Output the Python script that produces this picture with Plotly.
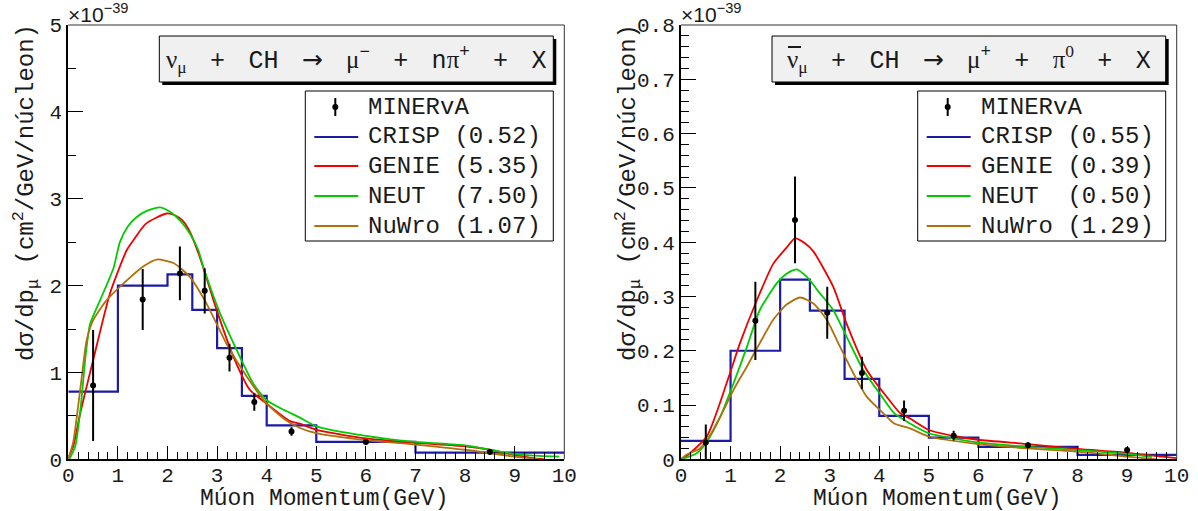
import plotly.graph_objects as go

# ---------------- data (cross sections in units of 1e-39 cm^2/GeV/nucleon) ----------------
# nu_mu CC pi+ : muon momentum
nu_edges = [0, 1, 2, 2.5, 3, 3.5, 4, 5, 7, 10]
nu_crisp = [0.78, 2.00, 2.13, 1.72, 1.28, 0.73, 0.39, 0.20, 0.076]

nu_data_p = [0.5, 1.5, 2.25, 2.75, 3.25, 3.75, 4.5, 6.0, 8.5]
nu_data_v = [0.85, 1.84, 2.14, 1.94, 1.17, 0.66, 0.32, 0.20, 0.085]
nu_data_e = [0.64, 0.35, 0.31, 0.26, 0.16, 0.10, 0.05, 0.02, 0.02]

nu_genie_p = [0.0, 0.1, 0.24, 0.5, 0.84, 1.18, 1.31, 1.56, 1.98, 2.15, 2.3, 2.45, 2.65, 2.99, 3.33,
              3.66, 4.0, 4.47, 4.67, 5.0, 6.0, 7.0, 8.0, 8.5, 9.0, 9.4, 9.6]
nu_genie_v = [0.02, 0.15, 0.53, 1.14, 1.91, 2.41, 2.52, 2.71, 2.83, 2.81, 2.75, 2.62, 2.33, 1.72, 1.18,
              0.80, 0.64, 0.44, 0.41, 0.34, 0.24, 0.19, 0.15, 0.11, 0.05, 0.01, 0.0]

nu_neut_p = [0.02, 0.14, 0.25, 0.35, 0.44, 0.64, 0.91, 1.04, 1.2, 1.38, 1.58, 1.85, 2.05, 2.25, 2.45,
             2.62, 2.72, 3.06, 3.46, 3.73, 4.0, 4.34, 4.67, 5.0, 6.0, 7.0, 8.0, 8.5, 9.0, 9.5, 9.9]
nu_neut_v = [0.0, 0.15, 0.6, 1.2, 1.56, 1.83, 2.2, 2.5, 2.68, 2.79, 2.86, 2.90, 2.85, 2.75, 2.60,
             2.41, 2.22, 1.68, 1.18, 0.87, 0.68, 0.57, 0.48, 0.38, 0.27, 0.20, 0.16, 0.11, 0.06, 0.04, 0.03]

nu_nuwro_p = [0.0, 0.1, 0.24, 0.37, 0.5, 0.77, 1.18, 1.51, 1.78, 2.12, 2.45, 2.79, 3.19, 3.60, 4.0,
              4.39, 4.67, 5.0, 6.0, 7.0, 8.0, 9.0, 9.5]
nu_nuwro_v = [0.0, 0.2, 0.80, 1.37, 1.60, 1.83, 2.06, 2.22, 2.30, 2.26, 2.10, 1.79, 1.33, 0.95, 0.64,
              0.45, 0.36, 0.30, 0.22, 0.17, 0.11, 0.03, 0.0]

# anti-nu_mu CC pi0 : muon momentum
anu_edges = [0, 1, 2, 2.6, 3.3, 4, 5, 6, 8, 10]
anu_crisp = [0.034, 0.200, 0.331, 0.274, 0.148, 0.080, 0.040, 0.023, 0.008]

anu_data_p = [0.5, 1.5, 2.3, 2.95, 3.65, 4.5, 5.5, 7.0, 9.0]
anu_data_v = [0.031, 0.255, 0.441, 0.270, 0.159, 0.0895, 0.0435, 0.026, 0.017]
anu_data_e = [0.033, 0.072, 0.080, 0.048, 0.030, 0.019, 0.009, 0.005, 0.005]

anu_genie_p = [0.0, 0.11, 0.52, 0.92, 1.19, 1.53, 1.86, 2.13, 2.30, 2.5, 2.67, 3.07, 3.34, 3.75, 4.15,
               4.42, 4.62, 5.0, 5.56, 6.0, 7.0, 8.0, 9.0, 10.0]
anu_genie_v = [0.0, 0.006, 0.042, 0.140, 0.214, 0.293, 0.360, 0.390, 0.407, 0.398, 0.383, 0.318, 0.250,
               0.164, 0.115, 0.085, 0.075, 0.054, 0.042, 0.036, 0.028, 0.019, 0.012, 0.002]

anu_neut_p = [0.0, 0.3, 0.52, 0.79, 1.06, 1.33, 1.59, 1.93, 2.13, 2.33, 2.54, 2.80, 3.07, 3.34, 3.68,
              4.01, 4.3, 4.62, 5.0, 6.0, 7.0, 8.0, 9.0, 9.5]
anu_neut_v = [0.0, 0.01, 0.032, 0.078, 0.140, 0.207, 0.275, 0.324, 0.342, 0.350, 0.336, 0.306, 0.275,
              0.226, 0.164, 0.121, 0.085, 0.066, 0.048, 0.031, 0.023, 0.017, 0.010, 0.004]

anu_nuwro_p = [0.0, 0.1, 0.38, 0.59, 0.79, 1.06, 1.33, 1.59, 1.86, 2.13, 2.40, 2.67, 2.94, 3.21, 3.48,
               3.75, 4.08, 4.3, 4.62, 5.0, 6.0, 7.0, 8.0, 9.0, 9.6]
anu_nuwro_v = [0.0, 0.008, 0.020, 0.045, 0.078, 0.128, 0.171, 0.214, 0.257, 0.285, 0.298, 0.287, 0.257,
               0.207, 0.158, 0.115, 0.085, 0.066, 0.057, 0.042, 0.028, 0.020, 0.014, 0.005, 0.0]

models = ["CRISP", "GENIE", "NEUT", "NuWro"]
nu_chi2 = ["0.52", "5.35", "7.50", "1.07"]
anu_chi2 = ["0.55", "0.39", "0.50", "1.29"]
data_name = "MINERvA"

x_title = "Múon Momentum(GeV)"
y_title = "dσ/dp<sub>μ</sub>\u00a0(cm<sup>2</sup>/GeV/núcleon)"
exp_label = "×10<sup>−39</sup>"

# ---------------- styling ----------------
W, H = 1198, 511
MONO = "Liberation Mono"
SERIF = "Liberation Serif"
TXT = "#1a1a1a"
colors = {"CRISP": "#1b1ba8", "GENIE": "#f00000", "NEUT": "#00cc00", "NuWro": "#b0700a"}


def px(x):
    return x / W


def py(y):
    return 1 - y / H


def serif(s):
    return "<span style=\"font-family:%s\">%s</span>" % (SERIF, s)


# panel frames in pixels: (left, right), shared top/bottom
TOP, BOT = 25.0, 459.3
PANELS = [(68.3, 564.3), (681.0, 1176.7)]
YTITLE_X = [26, 628]

fig = go.Figure()


def add_panel(k, edges, crisp, dp, dv, de, curves):
    xa = "x" if k == 0 else "x2"
    ya = "y" if k == 0 else "y2"
    fig.add_trace(go.Scatter(x=edges, y=crisp + [crisp[-1]], mode="lines", line_shape="hv",
                             line=dict(color=colors["CRISP"], width=2.2),
                             xaxis=xa, yaxis=ya, showlegend=False))
    for name, (cx, cy) in zip(models[1:], curves):
        fig.add_trace(go.Scatter(x=cx, y=cy, mode="lines", line_shape="spline",
                                 line=dict(color=colors[name], width=1.8, smoothing=0.6),
                                 xaxis=xa, yaxis=ya, showlegend=False))
    fig.add_trace(go.Scatter(x=dp, y=dv, mode="markers",
                             marker=dict(color="black", size=6),
                             error_y=dict(type="data", array=de, color="black", thickness=2, width=0),
                             xaxis=xa, yaxis=ya, showlegend=False))


add_panel(0, nu_edges, nu_crisp, nu_data_p, nu_data_v, nu_data_e,
          [(nu_genie_p, nu_genie_v), (nu_neut_p, nu_neut_v), (nu_nuwro_p, nu_nuwro_v)])
add_panel(1, anu_edges, anu_crisp, anu_data_p, anu_data_v, anu_data_e,
          [(anu_genie_p, anu_genie_v), (anu_neut_p, anu_neut_v), (anu_nuwro_p, anu_nuwro_v)])

tickfont = dict(family=MONO, size=21, color=TXT)


def xaxis_cfg(k):
    l, r = PANELS[k]
    return dict(domain=[px(l), px(r)], range=[0, 10], dtick=1, ticks="inside", ticklen=13,
                tickwidth=1, tickcolor="black", automargin=False, ticklabelstandoff=-5,
                minor=dict(ticks="inside", ticklen=7, dtick=0.2, tickcolor="black", tickwidth=1),
                showline=True, linecolor="black", linewidth=2, showgrid=False, zeroline=False,
                tickfont=tickfont, anchor="y" if k == 0 else "y2")


def yaxis_cfg(k, ymax, dtick, minor):
    return dict(domain=[py(BOT), py(TOP)], range=[0, ymax], dtick=dtick, ticks="inside", ticklen=15,
                tickwidth=1, tickcolor="black", automargin=False,
                minor=dict(ticks="inside", ticklen=8, dtick=minor, tickcolor="black", tickwidth=1),
                showline=True, linecolor="black", linewidth=2, showgrid=False, zeroline=False,
                tickfont=tickfont, anchor="x" if k == 0 else "x2")


shapes = []
annotations = []

leptons = ["μ<sup>−</sup>", "μ<sup>+</sup>"]
pions = ["n" + serif("π") + "<sup>+</sup>", serif("π") + "<sup>" + serif("0") + "</sup>"]
gap = "\u00a0\u2004"
arrow = "<span style=\"font-family:DejaVu Sans\">→</span>"

chis = [nu_chi2, anu_chi2]

for k, (l, r) in enumerate(PANELS):
    # top and right frame lines
    shapes.append(dict(type="line", xref="paper", yref="paper", x0=px(l), x1=px(r), y0=py(TOP), y1=py(TOP),
                       line=dict(color="#333333", width=1)))
    shapes.append(dict(type="line", xref="paper", yref="paper", x0=px(r), x1=px(r), y0=py(TOP), y1=py(BOT),
                       line=dict(color="#333333", width=1)))

    # reaction box with drop shadow
    bx0, bx1 = l + 91, r - 11
    shapes.append(dict(type="rect", xref="paper", yref="paper", x0=px(bx0 + 3), x1=px(bx1 + 3),
                       y0=py(85), y1=py(39), fillcolor="black", line=dict(width=0), layer="above"))
    shapes.append(dict(type="rect", xref="paper", yref="paper", x0=px(bx0), x1=px(bx1),
                       y0=py(82), y1=py(36), fillcolor="#f0f0f0", line=dict(color="black", width=1),
                       layer="above"))
    tokens = [serif("ν") + "<sub>" + serif("μ") + "</sub>", "+", "CH", arrow,
              serif("μ") + leptons[k][1:], "+", pions[k], "+", "X"]
    annotations.append(dict(xref="paper", yref="paper", x=px((bx0 + bx1) / 2), y=py(59),
                            xanchor="center", yanchor="middle", showarrow=False,
                            text=gap.join(tokens), font=dict(family=MONO, size=25, color=TXT)))
    if k == 1:
        # bar over the antineutrino symbol
        shapes.append(dict(type="line", xref="paper", yref="paper", x0=px(bx0 + 16), x1=px(bx0 + 29),
                           y0=py(47), y1=py(47), line=dict(color=TXT, width=2), layer="above"))

    # legend box
    lx0, lx1 = r - 259, r - 11
    shapes.append(dict(type="rect", xref="paper", yref="paper", x0=px(lx0), x1=px(lx1),
                       y0=py(241), y1=py(91), fillcolor="white", line=dict(color="black", width=1),
                       layer="above"))
    rows = [107, 137, 166, 196, 226]
    sx0, sx1 = lx0 + 9, lx0 + 53
    mx = (sx0 + sx1) / 2 - 1
    shapes.append(dict(type="line", xref="paper", yref="paper", x0=px(mx), x1=px(mx),
                       y0=py(rows[0] + 9), y1=py(rows[0] - 9), line=dict(color="black", width=2),
                       layer="above"))
    shapes.append(dict(type="circle", xref="paper", yref="paper", x0=px(mx - 3), x1=px(mx + 3),
                       y0=py(rows[0] + 3), y1=py(rows[0] - 3), fillcolor="black",
                       line=dict(color="black", width=0), layer="above"))
    annotations.append(dict(xref="paper", yref="paper", x=px(lx0 + 61), y=py(rows[0]),
                            xanchor="left", yanchor="middle", showarrow=False, text=data_name,
                            font=dict(family=MONO, size=24, color=TXT)))
    for i, name in enumerate(models):
        yy = rows[i + 1]
        shapes.append(dict(type="line", xref="paper", yref="paper", x0=px(sx0), x1=px(sx1),
                           y0=py(yy), y1=py(yy), line=dict(color=colors[name], width=2), layer="above"))
        label = (name.ljust(6) + "(" + chis[k][i] + ")").replace(" ", "\u00a0")
        annotations.append(dict(xref="paper", yref="paper", x=px(lx0 + 61), y=py(yy),
                                xanchor="left", yanchor="middle", showarrow=False, text=label,
                                font=dict(family=MONO, size=24, color=TXT)))

    # axis titles
    annotations.append(dict(xref="paper", yref="paper", x=px((l + r) / 2 + 8), y=py(499),
                            xanchor="center", yanchor="middle", showarrow=False, text=x_title,
                            font=dict(family=MONO, size=23, color=TXT)))
    annotations.append(dict(xref="paper", yref="paper", x=px(YTITLE_X[k]), y=py(193),
                            xanchor="center", yanchor="middle", showarrow=False, text=y_title,
                            textangle=-90, font=dict(family=MONO, size=24, color=TXT)))
    # exponent label
    annotations.append(dict(xref="paper", yref="paper", x=px(l - 2), y=py(TOP + 3),
                            xanchor="left", yanchor="bottom", showarrow=False, text=exp_label,
                            font=dict(family="Liberation Sans", size=21, color=TXT)))

fig.update_layout(
    width=W, height=H,
    margin=dict(l=0, r=0, t=0, b=0, autoexpand=False),
    paper_bgcolor="white", plot_bgcolor="white",
    xaxis=xaxis_cfg(0), xaxis2=xaxis_cfg(1),
    yaxis=yaxis_cfg(0, 5, 1, 0.5), yaxis2=yaxis_cfg(1, 0.8, 0.1, 0.02),
    shapes=shapes, annotations=annotations,
    showlegend=False,
)

fig.write_html("out.html")
